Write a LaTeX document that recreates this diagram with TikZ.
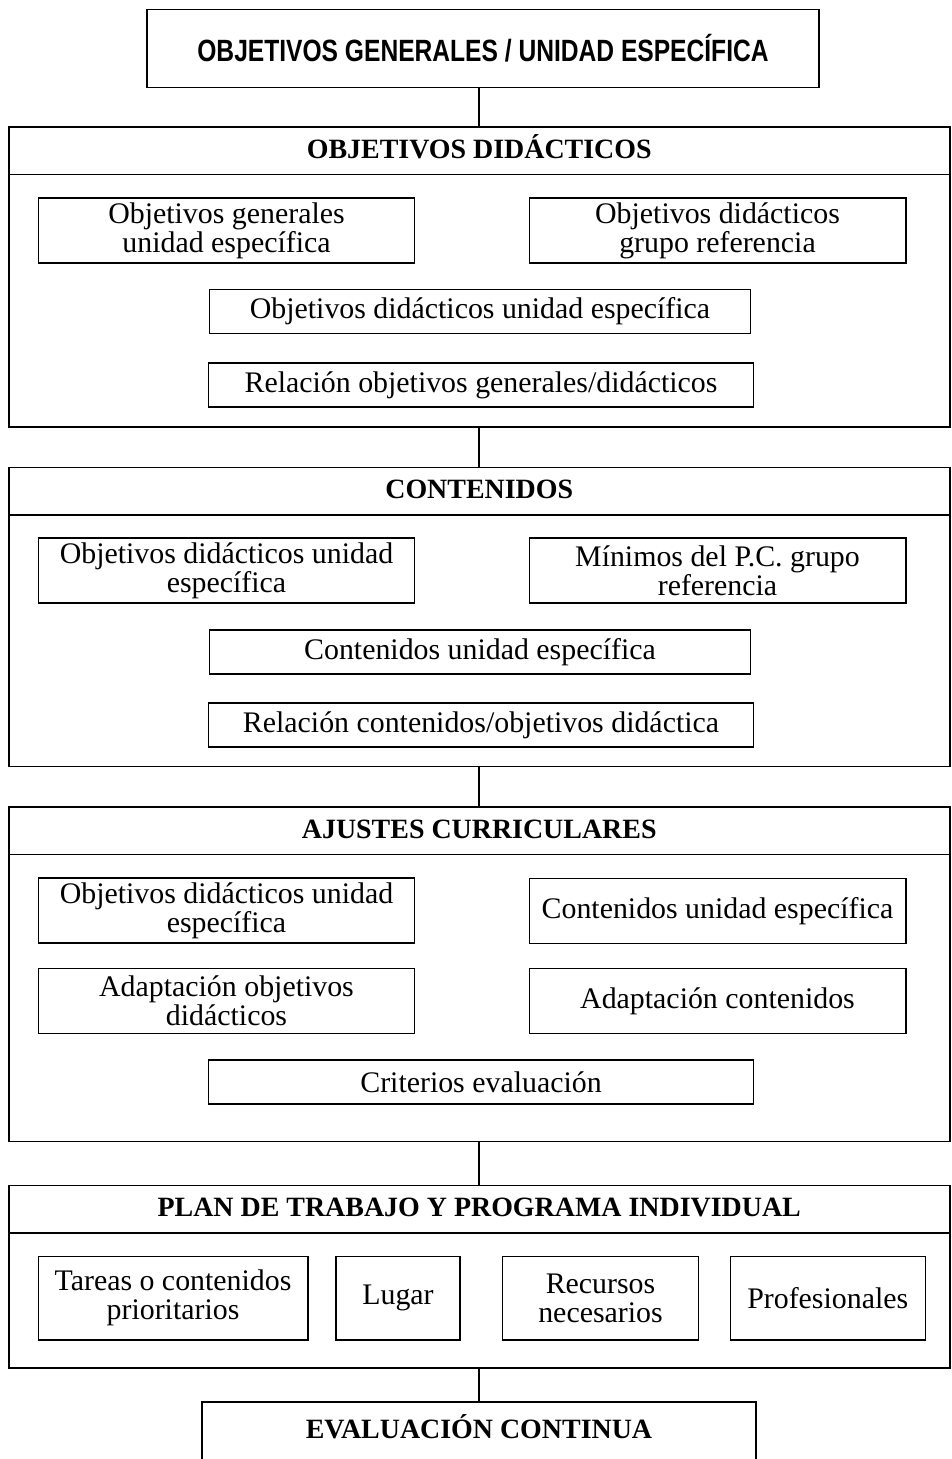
\documentclass[tikz,border=0pt]{standalone}
\usepackage{graphicx}
\usepackage{fontspec}
\setmainfont{Liberation Serif}
\newfontfamily\topsans{Liberation Sans}
\begin{document}
\begin{tikzpicture}[x=0.02cm, y=-0.02cm,
    sec/.style={draw, line width=1.1pt, minimum width=18.83cm, inner sep=0pt},
    head/.style={draw, line width=1.1pt, minimum width=18.83cm, minimum height=0.95cm, inner sep=0pt, anchor=north,
        text height=0.9em, text depth=0.05em, font=\fontsize{15.9}{18}\selectfont\bfseries},
    item/.style={draw, line width=0.6pt, minimum height=0.88cm, inner sep=0pt, align=center, font=\fontsize{17}{16.5}\selectfont},
    link/.style={line width=0.9pt}]
  \clip (0,0) rectangle (951,1459);
  % cabecera
  \node[draw, line width=1.1pt, minimum width=13.44cm, minimum height=1.56cm, inner sep=0pt,
        font=\topsans\bfseries\fontsize{17.5}{18}\selectfont] (top) at (483,48.5)
        {\scalebox{0.8}[1]{OBJETIVOS GENERALES / UNIDAD ESPECÍFICA}};
  % objetivos didacticos
  \node[sec, minimum height=6cm] (s1) at (479.25,277) {};
  \node[head] (s1h) at (s1.north) {OBJETIVOS DIDÁCTICOS};
  \node[item, minimum width=7.54cm, minimum height=1.3cm] (s1a) at (226.5,230.5) {Objetivos generales\\unidad específica};
  \node[item, minimum width=7.54cm, minimum height=1.3cm] (s1b) at (717.5,230.5) {Objetivos didácticos\\grupo referencia};
  \node[item, minimum width=10.84cm] (s1c) at (480,311.5) {Objetivos didácticos unidad específica};
  \node[item, minimum width=10.92cm] (s1d) at (481,385) {Relación objetivos generales/didácticos};
  % contenidos
  \node[sec, minimum height=5.98cm] (s2) at (479.25,617) {};
  \node[head] (s2h) at (s2.north) {CONTENIDOS};
  \node[item, minimum width=7.54cm, minimum height=1.3cm] (s2a) at (226.5,570.5) {Objetivos didácticos unidad\\específica};
  \node[item, minimum width=7.54cm, minimum height=1.3cm] (s2b) at (717.5,570.5) {Mínimos del P.C. grupo\\referencia};
  \node[item, minimum width=10.84cm] (s2c) at (480,652) {Contenidos unidad específica};
  \node[item, minimum width=10.92cm] (s2d) at (481,725) {Relación contenidos/objetivos didáctica};
  % ajustes curriculares
  \node[sec, minimum height=6.69cm] (s3) at (479.25,974.25) {};
  \node[head] (s3h) at (s3.north) {AJUSTES CURRICULARES};
  \node[item, minimum width=7.54cm, minimum height=1.3cm] (s3a) at (226.5,910.5) {Objetivos didácticos unidad\\específica};
  \node[item, minimum width=7.54cm, minimum height=1.3cm] (s3b) at (717.5,911) {Contenidos unidad específica};
  \node[item, minimum width=7.54cm, minimum height=1.3cm] (s3c) at (226.5,1001) {Adaptación objetivos\\didácticos};
  \node[item, minimum width=7.54cm, minimum height=1.3cm] (s3d) at (717.5,1001) {Adaptación contenidos};
  \node[item, minimum width=10.92cm] (s3e) at (481,1082) {Criterios evaluación};
  % plan de trabajo
  \node[sec, minimum height=3.65cm] (s4) at (479.25,1276.75) {};
  \node[head] (s4h) at (s4.north) {PLAN DE TRABAJO Y PROGRAMA INDIVIDUAL};
  \node[item, minimum width=5.4cm, minimum height=1.67cm] (s4a) at (173,1298.25) {Tareas o contenidos\\prioritarios};
  \node[item, minimum width=2.48cm, minimum height=1.67cm] (s4b) at (398,1298.25) {Lugar};
  \node[item, minimum width=3.92cm, minimum height=1.67cm] (s4c) at (600.5,1298.25) {Recursos\\necesarios};
  \node[item, minimum width=3.91cm, minimum height=1.67cm] (s4d) at (827.75,1298.25) {Profesionales};
  % evaluacion
  \node[draw, line width=1.1pt, minimum width=11.08cm, inner sep=0pt, anchor=north, text height=0.74cm, text depth=0.6cm,
        font=\fontsize{15.9}{18}\selectfont\bfseries] (evc) at (479,1401) {EVALUACIÓN CONTINUA};
  % uniones
  \draw[link] (s1.north) -- (s1.north |- top.south);
  \draw[link] (s1.south) -- (s2.north);
  \draw[link] (s2.south) -- (s3.north);
  \draw[link] (s3.south) -- (s4.north);
  \draw[link] (s4.south) -- (s4.south |- evc.north);
\end{tikzpicture}
\end{document}
